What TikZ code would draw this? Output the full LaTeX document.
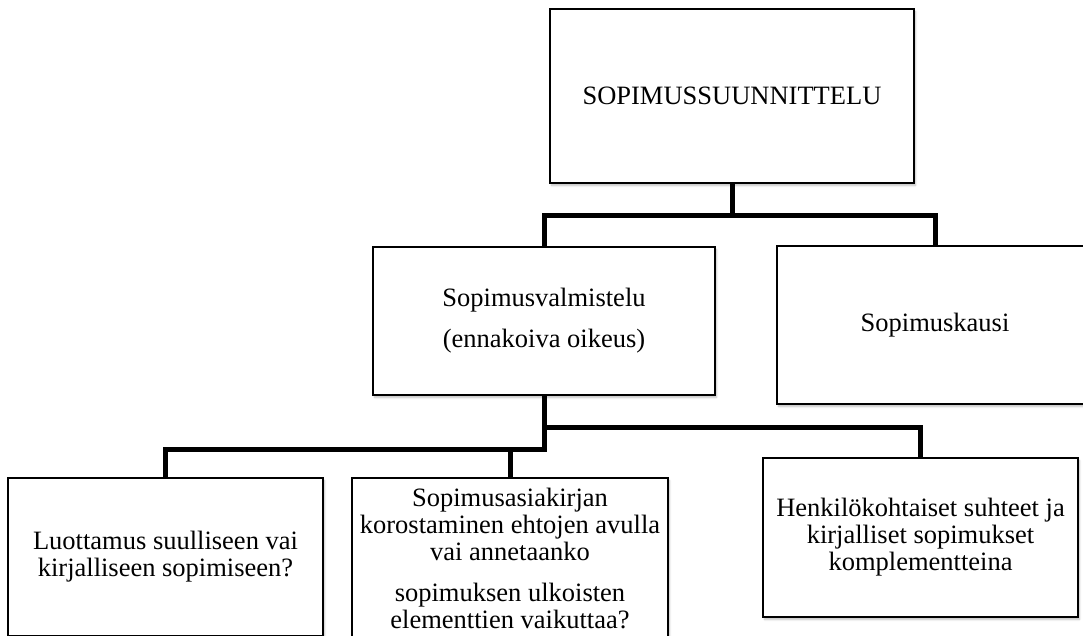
\documentclass[tikz,border=0pt]{standalone}
\usepackage{fontspec}
\setmainfont{Liberation Serif}
\usetikzlibrary{shadows.blur}
\begin{document}
\begin{tikzpicture}[x=1pt,y=-1pt,
  box/.style={draw=black, line width=1.3pt, fill=white, inner sep=0pt,
    align=center, font=\fontsize{26.5}{27}\selectfont,
    blur shadow={shadow xshift=1.5pt, shadow yshift=-2.5pt, shadow blur steps=6, shadow opacity=25}},
  conn/.style={draw=black, line width=5pt, line join=miter}]
\useasboundingbox (0,0) rectangle (1083,635);
\clip (0,0) rectangle (1083,635);

% tree connectors, drawn first so the boxes sit on top
\coordinate (j1) at (732,215);
\coordinate (j2) at (544,427);
\coordinate (j3) at (544,449);

% boxes
\node[box, minimum width=364pt, minimum height=174pt] (top) at (732,96) {SOPIMUSSUUNNITTELU};
\node[box, minimum width=342pt, minimum height=148pt] (mid) at (544,321)
  {Sopimusvalmistelu\\[14pt](ennakoiva oikeus)};
\node[box, minimum width=316pt, minimum height=158pt] (kausi) at (935,325) {Sopimuskausi};
\node[box, minimum width=315pt, minimum height=158pt] (b1) at (165.5,557)
  {Luottamus suulliseen vai\\kirjalliseen sopimiseen?};
\node[box, minimum width=316pt, minimum height=160pt] (b2) at (510,558)
  {Sopimusasiakirjan\\korostaminen ehtojen avulla\\vai annetaanko\\[14pt]sopimuksen ulkoisten\\elementtien vaikuttaa?};
\node[box, minimum width=315pt, minimum height=159pt] (b3) at (920.5,537.5)
  {Henkilökohtaiset suhteet ja\\kirjalliset sopimukset\\komplementteina};

% connectors
\draw[conn] (top.south) -- (j1);
\draw[conn] (mid.north) |- (j1) -| (kausi.north);
\draw[conn] (mid.south) -- (j3) -| (b1.north);
\draw[conn] (b2.north) -- (b2.north |- j3);
\draw[conn] (j2) -| (b3.north);
\end{tikzpicture}
\end{document}
